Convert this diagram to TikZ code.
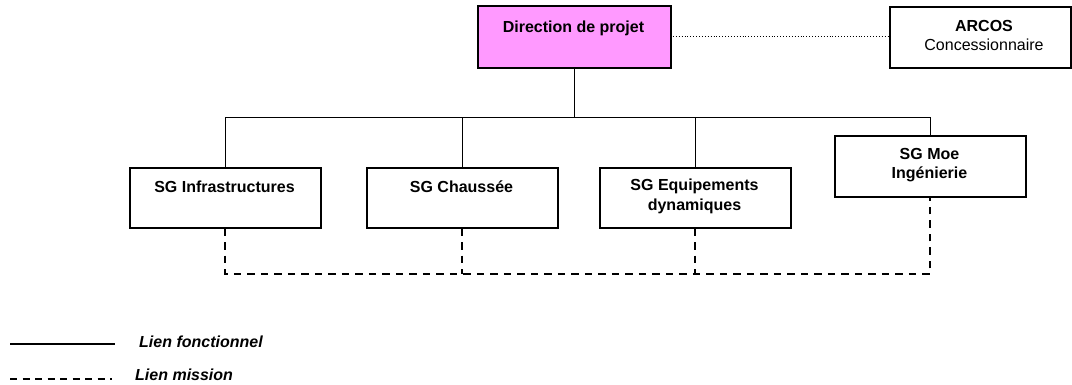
\documentclass[tikz,border=0pt]{standalone}
\usepackage{fontspec}
\setmainfont{Liberation Sans}
\begin{document}
\begin{tikzpicture}[x=1pt,y=-1pt,
  box/.style={draw=black,line width=1.6pt,inner sep=0pt,anchor=north west},
  lbl/.style={font=\fontsize{16}{19.5}\selectfont\bfseries,align=center,inner sep=0pt},
  link/.style={line width=1.5pt},
  mission/.style={line width=1.7pt,dash pattern=on 7.5pt off 6pt},
  legend/.style={font=\fontsize{16}{19}\selectfont\bfseries\itshape,anchor=west,inner sep=0pt}]
\useasboundingbox (0,0) rectangle (1072,385);

% top level
\node[box,fill={rgb,255:red,255;green,153;blue,255},minimum width=193pt,minimum height=62pt] (dir) at (477,5) {};
\node[lbl] (dirt) at (573.5,28) {Direction de projet};
\node[box,minimum width=181pt,minimum height=61pt] (arc) at (889,6) {};
\node[lbl,align=center] (arct) at (984,35.5) {ARCOS\\\mdseries Concessionnaire};

% sub-groups
\node[box,minimum width=191pt,minimum height=60pt] (inf) at (129,167) {};
\node[lbl] (inft) at (224.5,187) {SG Infrastructures};
\node[box,minimum width=191pt,minimum height=60pt] (cha) at (366,167) {};
\node[lbl] (chat) at (461.5,187) {SG Chauss\'ee};
\node[box,minimum width=191pt,minimum height=60pt] (equ) at (599,167) {};
\node[lbl] (equt) at (694.5,196.5) {SG Equipements\\dynamiques};
\node[box,minimum width=191pt,minimum height=61pt] (moe) at (834,135) {};
\node[lbl] (moet) at (929.5,165) {SG Moe\\Ing\'enierie};

% functional links
\coordinate (bus) at (0,117.5);
\draw[link] (dir.south) -- (dir.south |- bus);
\draw[link] (inf.north) |- (bus -| moe.north) -- (moe.north);
\draw[link] (cha.north) -- (cha.north |- bus);
\draw[link] (equ.north) -- (equ.north |- bus);

% link to the concessionnaire
\coordinate (d0) at (670,36);
\draw[line width=0.9pt,dotted] (d0) -- (d0 -| arc.west);

% mission links
\coordinate (mb) at (0,274);
\draw[mission] (inf.south) |- (mb -| moe.south) -- (moe.south);
\draw[mission] (cha.south) -- (cha.south |- mb);
\draw[mission] (equ.south) -- (equ.south |- mb);

% legend
\coordinate (l1a) at (10,344);
\coordinate (l1b) at (115,344);
\draw[link] (l1a) -- (l1b);
\node[legend] (l1t) at (139,342) {Lien fonctionnel};
\coordinate (l2a) at (10,379);
\coordinate (l2b) at (112,379);
\draw[line width=1.6pt,dash pattern=on 7pt off 5.5pt] (l2a) -- (l2b);
\node[legend] (l2t) at (135,375) {Lien mission};
\end{tikzpicture}
\end{document}
